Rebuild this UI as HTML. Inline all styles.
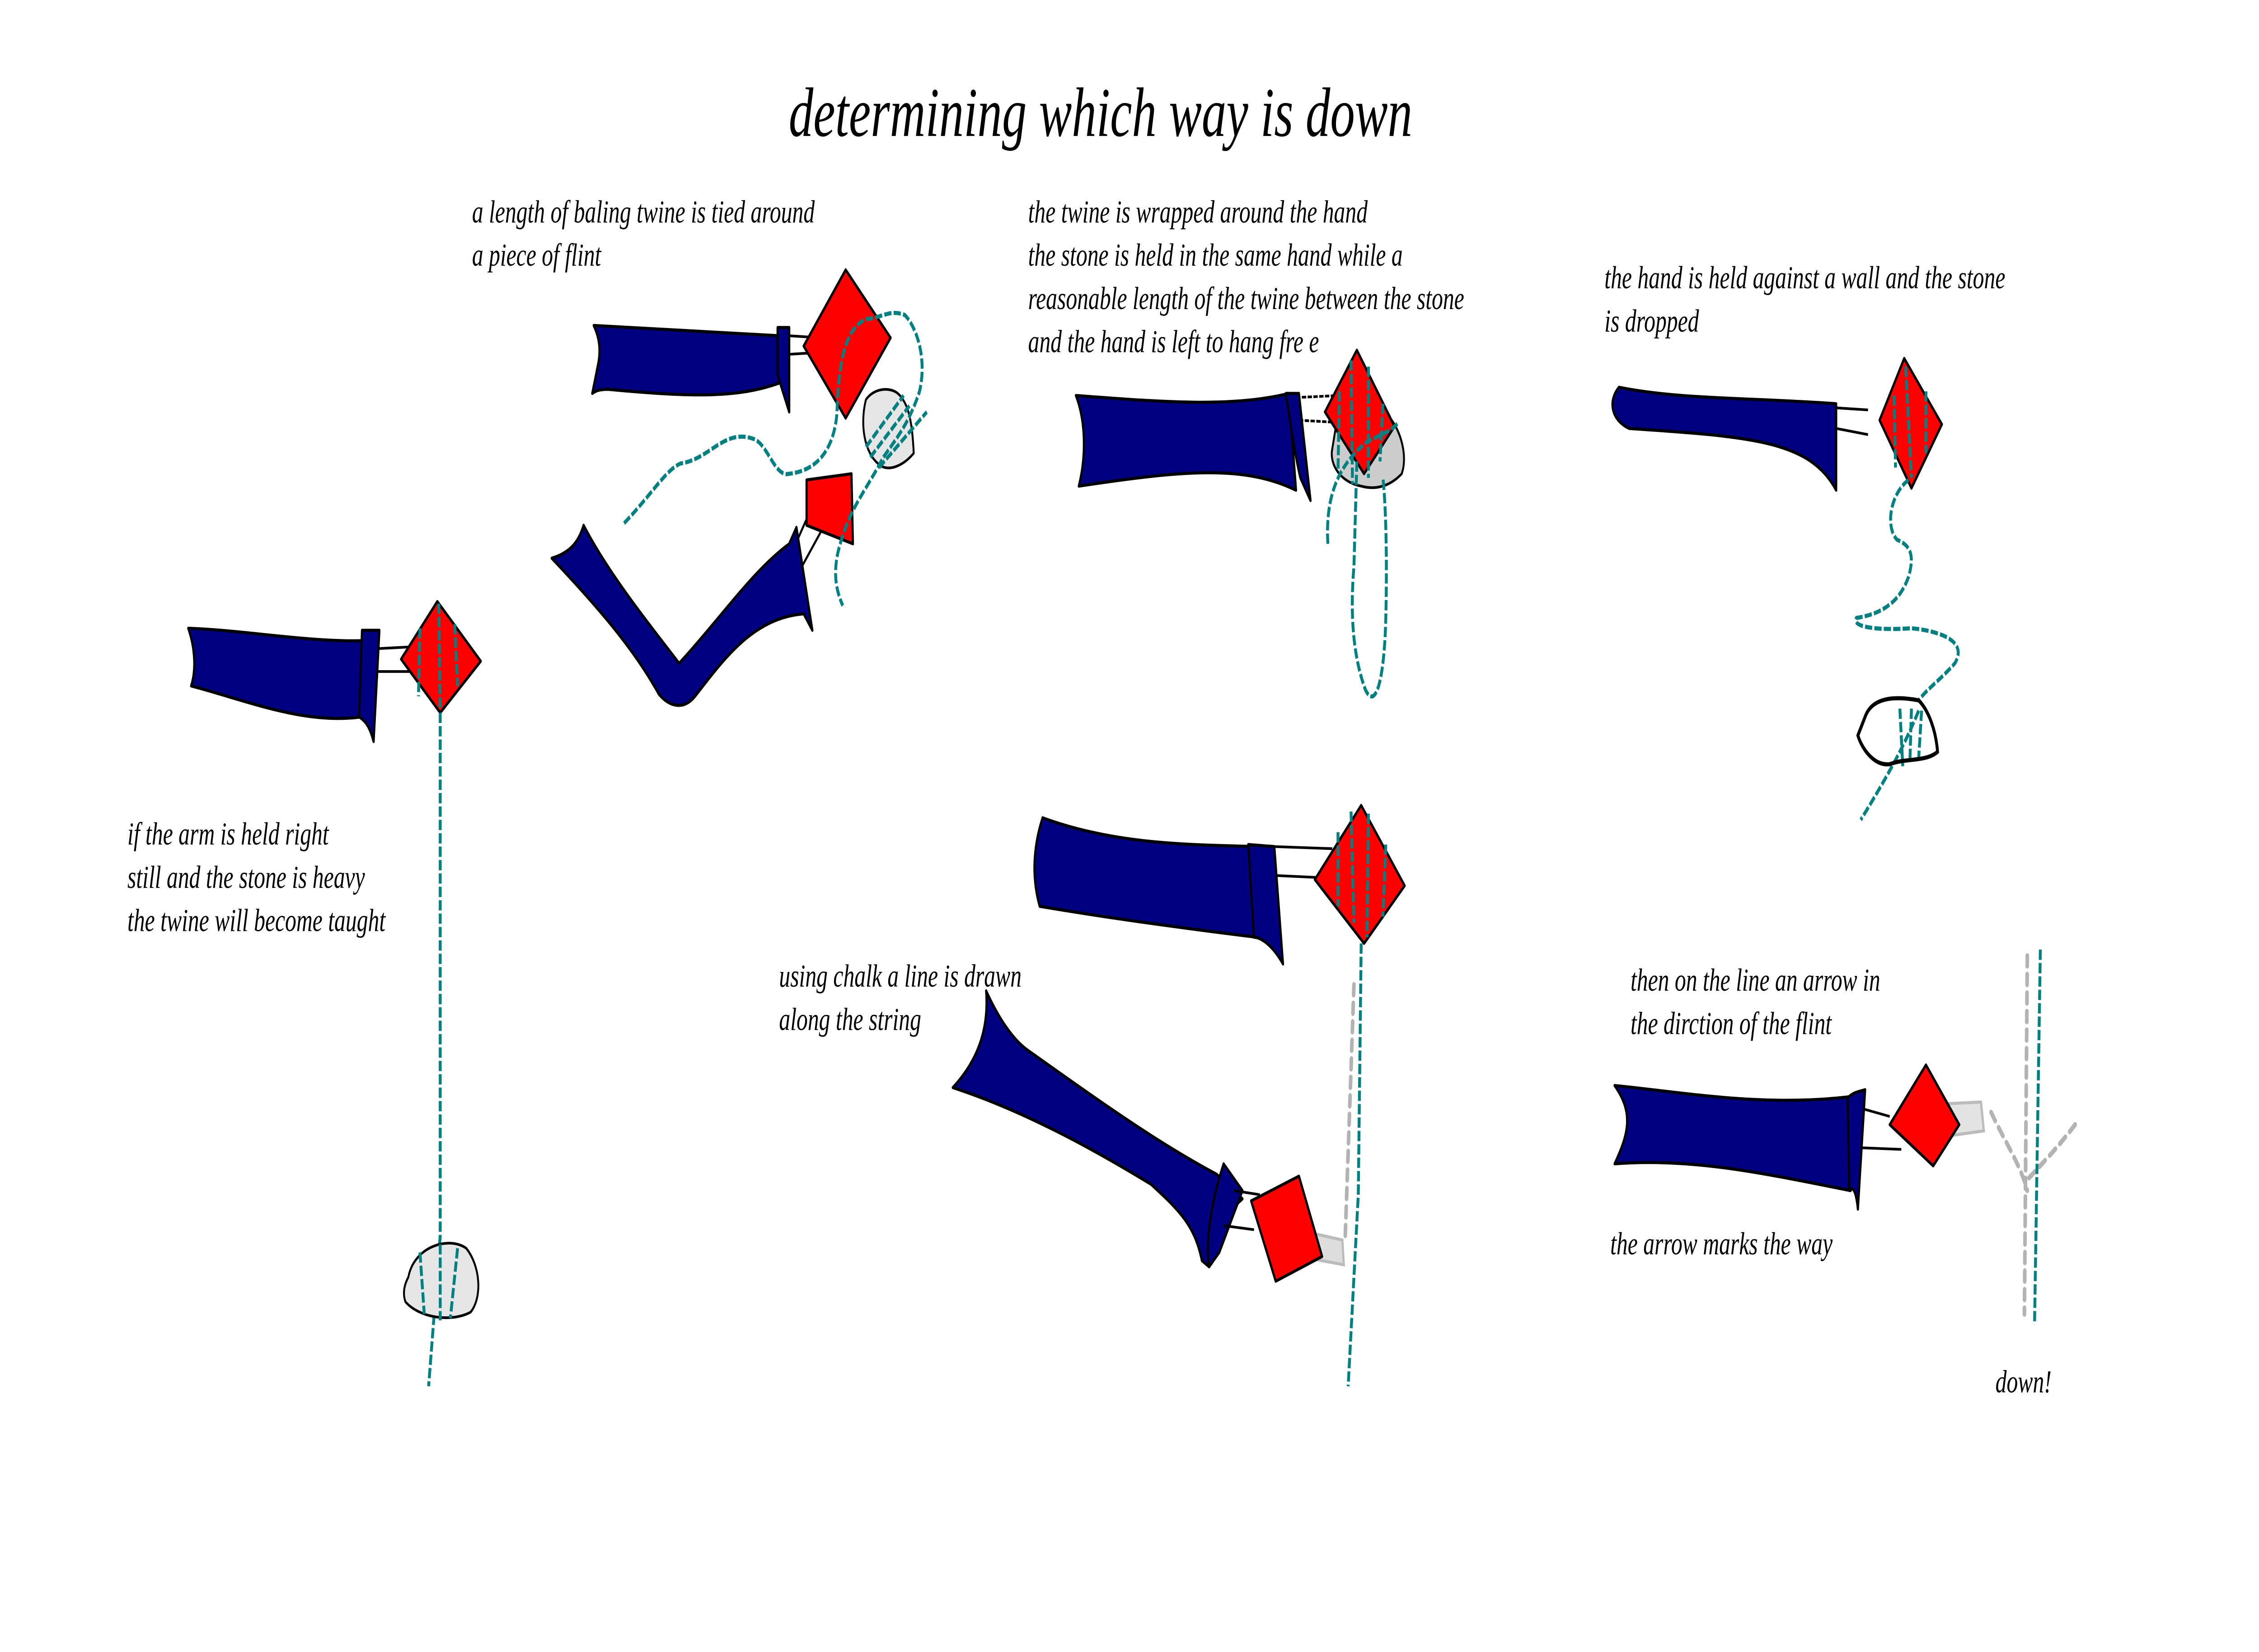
<!DOCTYPE html>
<html><head><meta charset="utf-8"><meta name="viewport" content="width=7112,initial-scale=1"><style>
html,body{margin:0;padding:0;background:#fff;width:100%;height:100%;overflow:hidden}
svg{display:block;position:absolute;left:0;top:0;width:100%;height:100%}
text{font-family:"Liberation Serif",serif;font-style:italic;fill:#000}
.t{font-size:15.5px}
.arm{fill:#000080;stroke:#000;stroke-width:1.5;stroke-linejoin:round}
.d{fill:#f00;stroke:#000;stroke-width:1.5;stroke-linejoin:round}
.tw{fill:none;stroke:#008080;stroke-width:2;stroke-dasharray:5 1.5}
.st{fill:#e6e6e6;stroke:#000;stroke-width:1.3}
.ln{stroke:#000;stroke-width:1.3;fill:none}
.ch{fill:none;stroke:#b3b3b3;stroke-width:2.5;stroke-dasharray:5 4;stroke-linecap:round}
</style></head><body>
<svg viewBox="0 0 1560 802" preserveAspectRatio="none" xmlns="http://www.w3.org/2000/svg">
<rect width="1560" height="802" fill="#fff"/>
<text x="760" y="66" font-size="34" text-anchor="middle">determining which way is down</text>

<!-- panel 1 -->
<line class="ln" x1="258" y1="315" x2="285" y2="314"/>
<line class="ln" x1="258" y1="326" x2="285" y2="326"/>
<path class="arm" d="M130,305 C170,306 215,312 252,311 L250,348 C210,352 170,340 132,333 C136,324 134,313 130,305Z"/>
<path class="arm" d="M250,306 L262,306 L258,360 C255,352 252,350 248,348Z"/>
<path class="d" d="M302,292 L332,321 L304,346 L277,320Z"/>
<path class="tw" d="M290,305 L289,338 M303,293 L304,344 M314,303 L316,333 M304,346 L304,600 L296,673"/>
<path class="st" d="M282,620 C286,605 310,600 322,606 C332,615 333,630 325,637 C312,642 290,640 280,632 C278,628 279,624 282,620Z"/>
<path class="tw" d="M290,608 L293,638 M304,604 L304,641 M316,606 L311,640"/>
<text class="t" x="88" y="410">if the arm is held right</text>
<text class="t" x="88" y="431">still and the stone is heavy</text>
<text class="t" x="88" y="452">the twine will become taught</text>

<!-- panel 2 -->
<text class="t" x="326" y="108">a length of baling twine is tied around</text>
<text class="t" x="326" y="129">a piece of flint</text>
<line class="ln" x1="545" y1="163" x2="567" y2="164"/>
<line class="ln" x1="545" y1="172" x2="568" y2="171"/>
<path class="arm" d="M410,158 L538,163 L538,186 C510,193 480,193 420,189 C413,189 411,190 409,191 L413,177 C415,170 414,164 410,158Z"/>
<path class="arm" d="M537,159 L545,159 L545,200 L537,182Z"/>
<path class="d" d="M584,131 L615,164 L584,203 L555,168Z"/>
<path class="st" d="M598,194 C604,188 615,188 620,191 C628,196 630,206 631,220 C624,226 614,229 608,226 C596,220 594,205 598,194Z"/>
<path class="tw" d="M598,217 L624,192 M601,222 L628,197 M607,227 L640,200"/>
<path class="d" d="M557,233 L588,230 L589,264 L557,255Z"/>
<path class="ln" d="M557,252 L547,268 M567,258 L553,276"/>
<path class="arm" d="M381,271 C395,268 400,262 403,255 C420,278 445,300 469,322 C500,298 520,277 545,264 L550,256 L561,306 L555,298 C520,300 500,320 480,338 C472,345 462,343 455,337 C440,318 420,300 381,271Z"/>
<path class="tw" d="M431,254 C450,240 460,228 470,225 C490,223 500,208 520,213 C530,215 535,232 545,230 C570,228 577,212 578,200 C579,180 582,160 598,155 C610,154 615,150 625,153 C634,160 640,175 635,190 C628,205 620,212 610,222 C598,238 590,244 583,258 C578,268 573,280 582,294"/>

<!-- panel 3 -->
<text class="t" x="710" y="108">the twine is wrapped around the hand</text>
<text class="t" x="710" y="129">the stone is held in the same hand while a</text>
<text class="t" x="710" y="150">reasonable length of the twine between the stone</text>
<text class="t" x="710" y="171">and the hand is left to hang fre   e</text>
<line class="ln" x1="895" y1="193" x2="925" y2="192" stroke-dasharray="3 1"/>
<line class="ln" x1="897" y1="204" x2="922" y2="205" stroke-dasharray="3 1"/>
<path class="st" d="M923,205 L960,203 C968,210 972,222 968,230 C960,236 950,238 940,236 C925,234 918,225 920,218Z" style="fill:#ccc"/>
<path class="arm" d="M743,192 C800,195 850,198 890,191 L895,238 C860,226 820,228 745,236 C750,222 750,205 743,192Z"/>
<path class="arm" d="M888,191 L897,191 L905,243 L898,232 C894,220 891,205 888,191Z"/>
<path class="d" d="M937,170 L963,207 L942,230 L915,200Z"/>
<path class="tw" d="M925,190 L924,228 M933,175 L934,235 M945,178 L945,232 M955,196 L953,224 M917,264 C915,240 925,225 945,214 C958,210 962,208 966,205 M937,224 L935,275 C932,300 935,320 943,335 C950,345 956,330 957,300 C958,270 957,245 955,232"/>

<!-- panel 4 -->
<text class="t" x="1108" y="140">the hand is held against a wall and the stone</text>
<text class="t" x="1108" y="161">is dropped</text>
<line class="ln" x1="1268" y1="198" x2="1290" y2="199" stroke-width="2"/>
<line class="ln" x1="1268" y1="208" x2="1290" y2="211" stroke-width="2"/>
<path class="arm" d="M1118,188 C1160,194 1210,193 1268,196 L1268,238 C1250,214 1210,212 1125,208 C1113,204 1110,195 1118,188Z"/>
<path class="d" d="M1315,174 L1341,206 L1320,237 L1298,204Z"/>
<path class="tw" d="M1308,192 L1309,227 M1316,178 L1320,232 M1330,190 L1330,220 M1318,233 C1305,240 1302,256 1310,262 C1320,265 1322,270 1318,280 C1312,292 1300,298 1282,300 C1278,305 1300,306 1320,305 C1335,306 1360,310 1350,322 C1340,330 1330,335 1325,340 M1320,344 L1319,368 M1312,344 L1314,372 M1327,345 L1325,368 M1325,345 C1315,362 1305,375 1285,398"/>
<path d="M1288,348 C1293,338 1310,338 1325,340 C1332,345 1337,355 1338,365 C1330,370 1315,368 1305,371 C1293,372 1285,362 1283,357Z" fill="none" stroke="#000" stroke-width="2"/>

<!-- panel 5 -->
<line class="ln" x1="880" y1="411" x2="920" y2="412" stroke-width="1.5"/>
<line class="ln" x1="880" y1="425" x2="910" y2="426" stroke-width="1.5"/>
<path class="arm" d="M720,397 C770,410 820,410 868,411 L868,455 C810,450 760,445 718,440 C712,425 714,410 720,397Z"/>
<path class="arm" d="M862,410 L880,411 L886,468 C878,458 870,455 866,455Z"/>
<path class="d" d="M940,391 L970,430 L942,458 L908,427Z"/>
<path class="tw" d="M924,404 L924,440 M933,394 L935,448 M945,395 L944,455 M957,410 L955,445 M940,458 L938,580 L931,673"/>
<path class="ch" d="M935,478 L929,600"/>
<path d="M902,598 L927,602 L928,614 L905,611Z" fill="#ddd" stroke="#bbb" stroke-width="1.5"/>
<path class="arm" d="M681,481 C690,495 700,505 710,510 C760,535 800,555 840,570 L858,582 L852,586 L835,615 L830,612 C825,595 815,588 795,575 C760,560 710,540 658,528 C675,515 683,500 681,481Z"/>
<path class="arm" d="M845,565 L858,578 L842,608 L835,615 C832,600 838,580 845,565Z"/>
<line class="ln" x1="852" y1="578" x2="870" y2="580"/>
<line class="ln" x1="845" y1="595" x2="866" y2="597"/>
<path class="d" d="M864,583 L897,571 L913,610 L881,622Z"/>
<text class="t" x="538" y="479">using chalk a line is drawn</text>
<text class="t" x="538" y="500">along the string</text>

<!-- panel 6 -->
<text class="t" x="1126" y="481">then on the line an arrow in</text>
<text class="t" x="1126" y="502">the dirction of the flint</text>
<path d="M1340,536 L1368,535 L1370,549 L1340,552Z" fill="#e3e3e3" stroke="#bbb" stroke-width="1.5"/>
<line class="ln" x1="1280" y1="537" x2="1305" y2="542" stroke-width="2"/>
<line class="ln" x1="1278" y1="557" x2="1313" y2="558" stroke-width="2"/>
<path class="arm" d="M1115,527 C1160,530 1220,538 1282,532 L1278,578 C1220,570 1170,562 1115,565 C1125,550 1128,540 1115,527Z" stroke-width="2"/>
<path class="arm" d="M1276,533 C1280,530 1284,530 1288,529 L1283,587 C1282,580 1280,575 1277,578Z" stroke-width="2"/>
<path class="d" d="M1330,517 L1353,546 L1335,566 L1305,546Z" stroke-width="2"/>
<path class="ch" d="M1400,464 L1398,638"/>
<path class="ch" d="M1375,540 C1385,555 1395,565 1400,578 M1433,546 C1420,558 1410,565 1401,572"/>
<path class="tw" d="M1409,461 L1405,643"/>
<text class="t" x="1112" y="609">the arrow marks the way</text>
<text class="t" x="1378" y="676">down!</text>
</svg>
</body></html>
